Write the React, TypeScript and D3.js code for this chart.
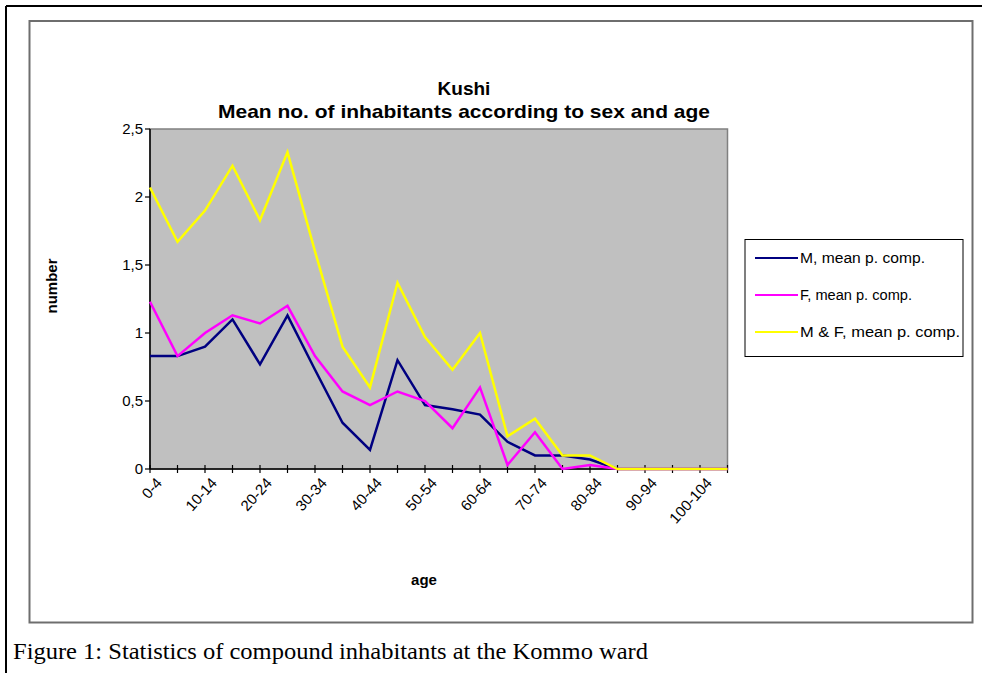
import React from "react";
import * as d3 from "d3";

const categories = ["0-4","5-9","10-14","15-19","20-24","25-29","30-34","35-39","40-44","45-49","50-54","55-59","60-64","65-69","70-74","75-79","80-84","85-89","90-94","95-99","100-104","105-109"];
const maleValues = [0.83,0.83,0.9,1.1,0.77,1.13,0.73,0.34,0.14,0.8,0.47,0.44,0.4,0.2,0.1,0.1,0.07,0,0,0,0,0];
const femaleValues = [1.23,0.83,1.0,1.13,1.07,1.2,0.83,0.57,0.47,0.57,0.5,0.3,0.6,0.03,0.27,0,0.03,0,0,0,0,0];
const bothValues = [2.07,1.67,1.9,2.23,1.83,2.33,1.6,0.9,0.6,1.37,0.97,0.73,1.0,0.24,0.37,0.1,0.1,0,0,0,0,0];
const yTicks = [0,0.5,1,1.5,2,2.5];
const seriesNames = ["M, mean p. comp.","F, mean p. comp.","M & F, mean p. comp."];
const seriesColors = ["#000080","#FF00FF","#FFFF00"];

export default function App() {
  const W = 982, H = 673;
  const left = 150, right = 727.5, top = 129, bottom = 469;
  const x = d3.scalePoint<string>().domain(categories).range([left, right]);
  const y = d3.scaleLinear().domain([0, 2.5]).range([bottom, top]);
  const line = d3.line<number>().x((_, i) => x(categories[i]) as number).y(d => y(d));
  const series = [maleValues, femaleValues, bothValues];
  const fmt = (v: number) => String(v).replace(".", ",");
  const font = "Arial, 'Liberation Sans', sans-serif";
  const legendWidths = [125, 112, 160];
  return (
    <svg width={W} height={H} style={{ position: "absolute", left: 0, top: 0, background: "#fff" }}>
      <line x1={6} y1={6} x2={W} y2={6} stroke="#000" strokeWidth={2} />
      <line x1={6} y1={6} x2={6} y2={H} stroke="#000" strokeWidth={2} />
      <rect x={29.5} y={21} width={943} height={601.5} fill="#fff" stroke="#6e6e6e" strokeWidth={2} />
      <text x={464} y={95} textAnchor="middle" fontFamily={font} fontWeight="bold" fontSize={19}>Kushi</text>
      <text x={464} y={118} textAnchor="middle" fontFamily={font} fontWeight="bold" fontSize={19} textLength={492} lengthAdjust="spacingAndGlyphs">Mean no. of inhabitants according to sex and age</text>
      <rect x={left} y={top} width={right - left} height={bottom - top} fill="#C0C0C0" stroke="#808080" strokeWidth={1.5} />
      <line x1={left} y1={top} x2={left} y2={bottom} stroke="#000" strokeWidth={1.5} />
      <line x1={left} y1={bottom} x2={right} y2={bottom} stroke="#000" strokeWidth={1.5} />
      {yTicks.map(t => (
        <g key={t}>
          <line x1={left - 5} x2={left} y1={y(t)} y2={y(t)} stroke="#000" strokeWidth={1.2} />
          <text x={left - 7} y={y(t)} dy="0.35em" textAnchor="end" fontFamily={font} fontSize={15}>{fmt(t)}</text>
        </g>
      ))}
      {categories.map((c, i) => (
        <g key={c}>
          <line x1={x(c)} x2={x(c)} y1={bottom - 4} y2={bottom + 4} stroke="#000" strokeWidth={1.2} />
          {i % 2 === 0 && (
            <text transform={`translate(${(x(c) as number) + 9},${bottom + 11}) rotate(-48)`} textAnchor="end" dy="0.35em" fontFamily={font} fontSize={15}>{c}</text>
          )}
        </g>
      ))}
      {series.map((s, k) => (
        <path key={k} d={line(s) || ""} fill="none" stroke={seriesColors[k]} strokeWidth={2.5} strokeLinejoin="miter" />
      ))}
      <text transform={`translate(57,286) rotate(-90)`} textAnchor="middle" fontFamily={font} fontWeight="bold" fontSize={15}>number</text>
      <text x={424} y={585} textAnchor="middle" fontFamily={font} fontWeight="bold" fontSize={15}>age</text>
      <rect x={745} y={239.5} width={218} height={117} fill="#fff" stroke="#000" strokeWidth={1} />
      {seriesNames.map((n, k) => (
        <g key={n}>
          <line x1={755} x2={798} y1={258 + k * 37} y2={258 + k * 37} stroke={seriesColors[k]} strokeWidth={2} />
          <text x={800} y={258 + k * 37} dy="0.35em" fontFamily={font} fontSize={14} textLength={legendWidths[k]} lengthAdjust="spacingAndGlyphs">{n}</text>
        </g>
      ))}
      <text x={13} y={659} fontFamily="'Liberation Serif', 'Times New Roman', serif" fontSize={24} textLength={635} lengthAdjust="spacingAndGlyphs">Figure 1: Statistics of compound inhabitants at the Kommo ward</text>
    </svg>
  );
}
